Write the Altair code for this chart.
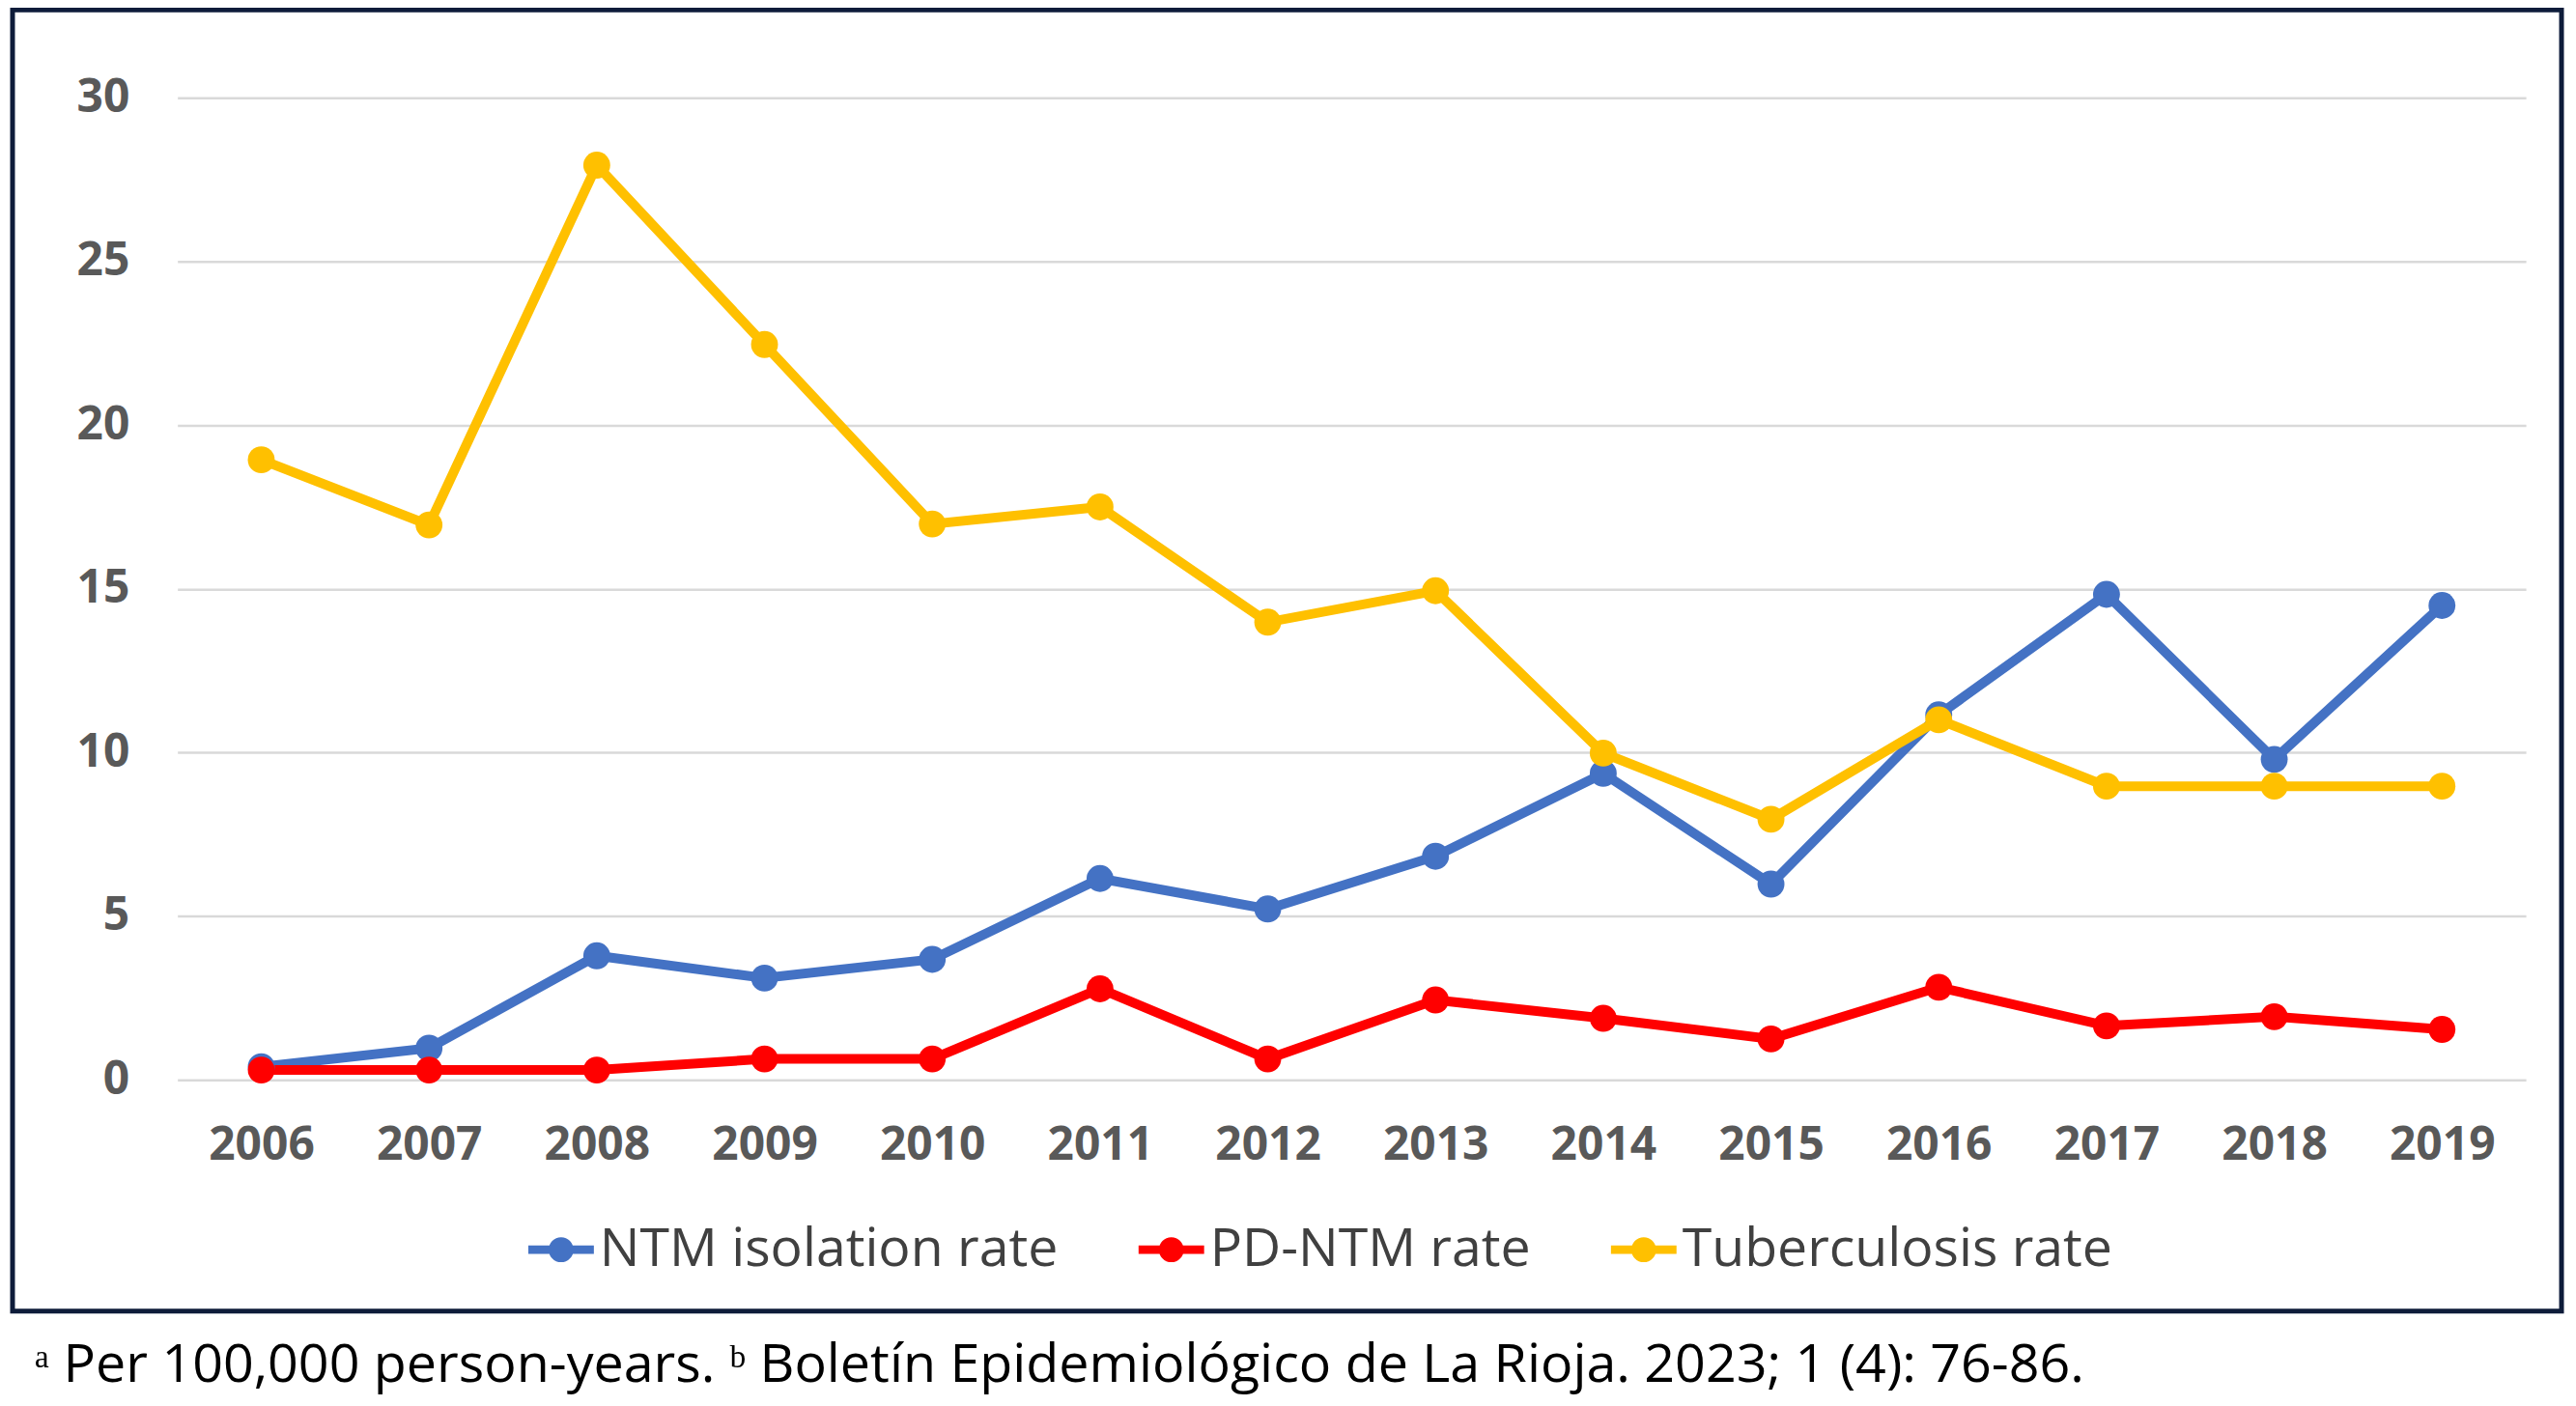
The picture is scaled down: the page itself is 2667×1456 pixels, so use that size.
import altair as alt
import pandas as pd

years = ["2006", "2007", "2008", "2009", "2010", "2011", "2012",
         "2013", "2014", "2015", "2016", "2017", "2018", "2019"]
ntm_rate = [0.4, 0.97, 3.79, 3.11, 3.68, 6.15, 5.22, 6.83, 9.36, 5.98, 11.15, 14.83, 9.79, 14.49]
pd_ntm_rate = [0.3, 0.3, 0.3, 0.64, 0.64, 2.78, 0.64, 2.44, 1.88, 1.25, 2.83, 1.65, 1.93, 1.54]
tb_rate = [18.94, 16.95, 27.94, 22.46, 16.98, 17.5, 13.98, 14.94, 9.98, 7.96, 11.0, 8.97, 8.97, 8.97]
series_names = ["NTM isolation rate", "PD-NTM rate", "Tuberculosis rate"]
series_colors = ["#4472C4", "#FF0000", "#FFC000"]
y_ticks = [0, 5, 10, 15, 20, 25, 30]
footnote = "ᵃ Per 100,000 person-years. ᵇ Boletín Epidemiológico de La Rioja. 2023; 1 (4): 76-86."

rows = []
for name, vals in zip(series_names, [ntm_rate, pd_ntm_rate, tb_rate]):
    for y, v in zip(years, vals):
        rows.append({"year": y, "value": v, "series": name})
df = pd.DataFrame(rows)

W, H = 2436, 1019
FONT = "Open Sans"

legend_path = ("M-1,-0.13 L1,-0.13 L1,0.13 L-1,0.13 Z "
               "M0.38,0 A0.38,0.38 0 1 1 -0.38,0 A0.38,0.38 0 1 1 0.38,0 Z")

legend = alt.Legend(title=None, orient="none", direction="horizontal",
                    legendX=364, legendY=1161,
                    symbolType=legend_path, symbolSize=4624,
                    symbolStrokeWidth=0, symbolOpacity=1,
                    labelFont=FONT, labelFontSize=55.5, labelColor="#404040",
                    labelOffset=6, columnPadding=83, labelLimit=1000)

x_enc = alt.X("year:O", sort=years,
              scale=alt.Scale(type="point", padding=0.5),
              axis=alt.Axis(title=None, labelAngle=0, domain=False, ticks=False,
                            grid=False, labelFont=FONT, labelFontWeight="bold",
                            labelFontSize=48, labelColor="#595959", labelPadding=44))
y_enc = alt.Y("value:Q",
              scale=alt.Scale(domain=[0, 30], nice=False, zero=True),
              axis=alt.Axis(title=None, values=y_ticks, domain=False, ticks=False,
                            grid=True, gridColor="#D9D9D9", gridWidth=2.5,
                            labelFont=FONT, labelFontWeight="bold",
                            labelFontSize=48, labelColor="#595959", labelPadding=50))
color_scale = alt.Scale(domain=series_names, range=series_colors)
color_enc = alt.Color("series:N", scale=color_scale, sort=series_names, legend=legend)

lines = alt.Chart(df).mark_line(strokeWidth=10).encode(
    x=x_enc, y=y_enc, color=color_enc,
)

points = alt.Chart(df).mark_point(filled=True, shape="circle", size=780, opacity=1).encode(
    x=x_enc, y=y_enc, color=color_enc,
)

frame = alt.Chart(pd.DataFrame({"k": [0]})).mark_rect(
    fill=None, stroke="#0E1C3A", strokeWidth=5
).encode(
    x=alt.value(-171), x2=alt.value(2473),
    y=alt.value(-91), y2=alt.value(1259),
)

note = alt.Chart(pd.DataFrame({"t": [footnote]})).mark_text(
    align="left", baseline="middle", font=FONT, fontSize=55.7, color="#000000"
).encode(
    x=alt.value(-148), y=alt.value(1315), text="t:N"
)

chart = alt.layer(lines, points, frame, note).properties(
    width=W, height=H,
    autosize=alt.AutoSizeParams(type="none"),
    padding={"left": 176, "top": 92, "right": 44, "bottom": 330},
    background="white",
).configure_view(stroke=None)

chart.save("out.html", embed_options={"renderer": "svg", "actions": False})
